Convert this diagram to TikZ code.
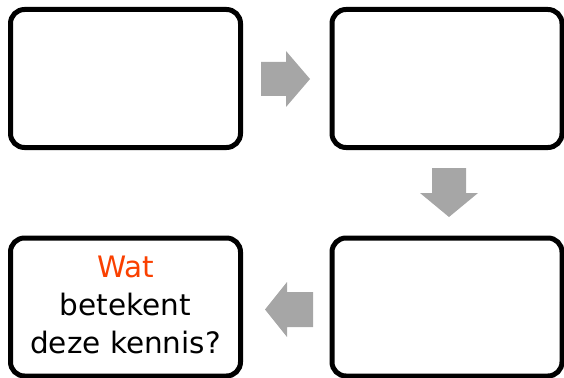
\documentclass[tikz,border=0pt]{standalone}
\usepackage{fontspec}
\setmainfont{DejaVu Sans}
\definecolor{arrowgray}{RGB}{166,166,166}
\definecolor{watorange}{RGB}{250,64,0}
\begin{document}
\begin{tikzpicture}[x=1pt,y=-1pt,
  card/.style={draw=black,line width=5pt,rounded corners=14pt,fill=white,
    minimum width=230pt,minimum height=138pt,inner sep=0pt,
    align=center,font=\fontsize{29.5}{38}\selectfont},
  blockarrow/.style={fill=arrowgray,draw=none}]
\useasboundingbox (0,0) rectangle (564,377);
\node[card] (b1) at (125.5,78.5) {};
\node[card] (b2) at (447,78.5) {};
\node[card] (b3) at (447,307) {};
\node[card] (b4) at (125.5,307) {};
\node[align=center,font=\fontsize{29.5}{38}\selectfont,inner sep=0pt] (t4) at ([yshift=2pt]b4.center) {\textcolor{watorange}{Wat}\\betekent\\deze kennis?};
% right arrow
\coordinate (a1) at (261,79);
\fill[blockarrow] (a1) ++(0,-17) -- ++(25,0) -- ++(0,-11) -- ++(24,28) -- ++(-24,28) -- ++(0,-11) -- ++(-25,0) -- cycle;
% down arrow
\coordinate (a2) at (449,168);
\fill[blockarrow] (a2) ++(-17,0) -- ++(0,25) -- ++(-12,0) -- ++(29,24) -- ++(29,-24) -- ++(-12,0) -- ++(0,-25) -- cycle;
% left arrow
\coordinate (a3) at (313,309.5);
\fill[blockarrow] (a3) ++(0,-17.5) -- ++(-26,0) -- ++(0,-10) -- ++(-22,27.5) -- ++(22,27.5) -- ++(0,-10) -- ++(26,0) -- cycle;
\end{tikzpicture}
\end{document}
